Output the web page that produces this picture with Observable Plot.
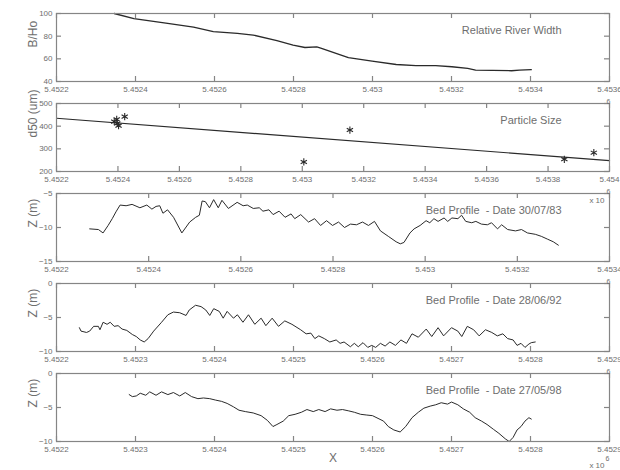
<!DOCTYPE html>
<html>
<head>
<meta charset="utf-8">
<script src="https://cdn.jsdelivr.net/npm/d3@7"></script>
<script src="https://cdn.jsdelivr.net/npm/@observablehq/plot@0.6"></script>
<style>
  body { margin: 0; background: #ffffff; }
  #chart { width: 620px; padding-top: 9px; }
  #chart svg { display: block; overflow: visible; background: transparent; }
</style>
</head>
<body>
<div id="chart"></div>
<script>
// ---------- Panel 1: Relative River Width ----------
const widthX = [5452346, 5452396, 5452477, 5452547, 5452597, 5452658, 5452698, 5452758, 5452799, 5452829, 5452859, 5452869, 5452939, 5452999, 5453060, 5453110, 5453160, 5453201, 5453241, 5453261, 5453352, 5453372, 5453402];
const widthY = [100, 95.5, 91.5, 88, 84, 82.5, 81, 76, 72, 70, 70.5, 69.5, 61, 58, 55, 54, 54, 53, 51.5, 50, 49.5, 50, 50.5];
const ticksX1 = [5452200, 5452400, 5452600, 5452800, 5453000, 5453200, 5453400, 5453600];
const ticksY1 = [40, 60, 80, 100];

// ---------- Panel 2: Particle Size ----------
const sizeX = [5452388, 5452396, 5452402, 5452398, 5452422, 5453005, 5453155, 5453853, 5453949];
const sizeY = [420, 430, 402, 412, 442, 242, 383, 254, 283];
const fitX = [5452200, 5454000];
const fitY = [435, 248];
const ticksX2 = [5452200, 5452400, 5452600, 5452800, 5453000, 5453200, 5453400, 5453600, 5453800, 5454000];
const ticksY2 = [200, 300, 400, 500];

// ---------- Panel 3: Bed Profile 30/07/83 ----------
const bed83X = [5452272, 5452291, 5452301, 5452312, 5452321, 5452329, 5452338, 5452351, 5452364, 5452381, 5452396, 5452407, 5452416, 5452424, 5452431, 5452441, 5452454, 5452472, 5452489, 5452502, 5452510, 5452516, 5452523, 5452532, 5452541, 5452551, 5452559, 5452573, 5452592, 5452605, 5452614, 5452627, 5452640, 5452648, 5452661, 5452670, 5452683, 5452696, 5452709, 5452717, 5452730, 5452747, 5452760, 5452773, 5452786, 5452799, 5452812, 5452825, 5452838, 5452851, 5452864, 5452877, 5452890, 5452903, 5452920, 5452937, 5452946, 5452954, 5452967, 5452976, 5452989, 5453002, 5453010, 5453019, 5453028, 5453041, 5453049, 5453058, 5453071, 5453079, 5453088, 5453101, 5453110, 5453122, 5453135, 5453144, 5453157, 5453166, 5453179, 5453196, 5453209, 5453222, 5453239, 5453252, 5453265, 5453278, 5453289];
const bed83Z = [-10.2, -10.3, -10.8, -9.7, -8.7, -7.7, -6.7, -6.8, -6.6, -7.1, -6.7, -7.3, -6.9, -6.8, -7.9, -7.4, -8.5, -10.8, -9.2, -8.5, -8.2, -6.1, -6.2, -7.1, -5.9, -7.1, -6.0, -7.2, -6.3, -6.8, -6.7, -7.2, -7.1, -7.6, -7.4, -8.1, -7.6, -8.5, -8.0, -8.7, -8.1, -9.2, -8.7, -9.7, -9.0, -9.7, -9.2, -10.0, -9.5, -9.6, -9.2, -9.7, -9.1, -10.5, -11.3, -12.1, -12.4, -12.2, -10.8, -10.2, -9.7, -9.0, -9.3, -8.7, -9.1, -8.6, -9.1, -8.6, -8.7, -8.2, -9.1, -9.3, -9.1, -9.5, -9.6, -9.3, -10.2, -9.6, -10.3, -10.5, -10.3, -10.8, -11.0, -11.3, -11.7, -12.1, -12.6];
const ticksX3 = [5452200, 5452400, 5452600, 5452800, 5453000, 5453200, 5453400];
const ticksY3 = [-15, -10, -5];

// ---------- Panel 4: Bed Profile 28/06/92 ----------
const bed92X = [5452229, 5452231, 5452238, 5452242, 5452247, 5452253, 5452255, 5452259, 5452264, 5452268, 5452273, 5452278, 5452283, 5452289, 5452296, 5452301, 5452306, 5452311, 5452316, 5452323, 5452333, 5452341, 5452348, 5452356, 5452364, 5452368, 5452376, 5452383, 5452389, 5452394, 5452399, 5452406, 5452411, 5452416, 5452424, 5452429, 5452436, 5452443, 5452451, 5452459, 5452465, 5452473, 5452481, 5452489, 5452498, 5452509, 5452516, 5452522, 5452527, 5452532, 5452539, 5452546, 5452554, 5452559, 5452564, 5452572, 5452577, 5452582, 5452588, 5452594, 5452599, 5452604, 5452610, 5452616, 5452622, 5452629, 5452636, 5452643, 5452650, 5452658, 5452668, 5452675, 5452683, 5452690, 5452700, 5452708, 5452713, 5452720, 5452728, 5452735, 5452743, 5452751, 5452758, 5452765, 5452771, 5452778, 5452783, 5452788, 5452793, 5452798, 5452801, 5452806];
const bed92Z = [-6.5, -7.0, -7.2, -7.0, -6.3, -6.3, -6.8, -5.7, -6.0, -5.7, -6.3, -6.2, -6.7, -6.9, -7.5, -7.8, -8.3, -8.6, -8.1, -7.0, -5.7, -4.6, -4.2, -4.3, -4.7, -3.9, -3.2, -3.4, -3.9, -4.7, -3.7, -4.1, -5.1, -4.1, -5.1, -4.6, -5.7, -4.6, -6.0, -5.1, -6.2, -5.1, -6.3, -5.5, -6.0, -6.8, -7.4, -7.3, -8.1, -7.7, -8.1, -8.6, -8.3, -8.8, -8.6, -9.3, -8.8, -9.3, -8.7, -9.4, -9.1, -9.4, -8.8, -9.2, -8.6, -9.1, -8.3, -8.8, -7.4, -7.9, -6.7, -7.8, -6.5, -7.7, -6.5, -7.0, -7.8, -6.3, -6.8, -7.7, -6.8, -7.2, -7.7, -7.4, -8.1, -8.3, -9.1, -8.8, -9.4, -8.9, -8.7, -8.6];
const ticksX45 = [5452200, 5452300, 5452400, 5452500, 5452600, 5452700, 5452800, 5452900];
const ticksY45 = [-10, -5, 0];

// ---------- Panel 5: Bed Profile 27/05/98 ----------
const bed98X = [5452292, 5452296, 5452301, 5452306, 5452313, 5452318, 5452326, 5452333, 5452341, 5452348, 5452356, 5452363, 5452371, 5452379, 5452386, 5452394, 5452401, 5452409, 5452416, 5452424, 5452431, 5452439, 5452449, 5452459, 5452467, 5452474, 5452479, 5452487, 5452494, 5452502, 5452510, 5452517, 5452525, 5452532, 5452540, 5452547, 5452555, 5452562, 5452570, 5452577, 5452585, 5452592, 5452600, 5452607, 5452614, 5452620, 5452627, 5452635, 5452642, 5452650, 5452658, 5452665, 5452673, 5452680, 5452687, 5452695, 5452700, 5452708, 5452715, 5452723, 5452730, 5452738, 5452745, 5452753, 5452760, 5452768, 5452773, 5452778, 5452783, 5452788, 5452793, 5452798, 5452801];
const bed98Z = [-3.1, -3.4, -3.3, -2.9, -3.2, -2.7, -3.2, -2.7, -3.1, -2.8, -3.3, -2.8, -3.4, -3.7, -3.6, -3.7, -3.9, -4.1, -4.4, -4.9, -5.4, -5.6, -5.8, -6.2, -6.9, -7.8, -7.5, -7.0, -6.2, -6.0, -5.7, -5.3, -5.6, -5.3, -5.6, -5.2, -5.4, -5.3, -5.5, -5.7, -6.0, -6.1, -6.2, -6.6, -7.0, -7.8, -8.3, -8.6, -7.8, -6.5, -5.7, -5.1, -4.8, -4.6, -4.3, -4.5, -4.2, -4.6, -5.2, -5.7, -6.5, -7.0, -7.5, -8.2, -8.8, -9.6, -10.0, -9.4, -8.3, -7.8, -7.0, -6.5, -6.7];

// ---------- styling ----------
const AXIS = "#858585";
const TEXT = "#6e6e6e";
const LINE = "#2a2a2a";
const FONT = "'Liberation Sans', Arial, sans-serif";
const W = 620, ML = 56, MR = 11, MT = 4;
const TICK = 5;
const fmtX = d => String(+(d / 1e6).toFixed(4));

function panel({xDomain, xTicks, yDomain, yTicks, yLabel, title, marks, height = 90, marginBottom = 18, extra = []}) {
  const frameW = W - ML - MR;
  const frameH = height - MT - marginBottom;
  return Plot.plot({
    width: W, height,
    marginLeft: ML, marginRight: MR, marginTop: MT, marginBottom,
    style: {fontFamily: FONT, fontSize: "8px", color: TEXT, background: "transparent", overflow: "visible"},
    x: {domain: xDomain},
    y: {domain: yDomain},
    marks: [
      ...marks,
      // inward tick marks on all four sides
      Plot.ruleX(xTicks, {x: d => d, insetBottom: frameH - TICK, stroke: AXIS, strokeWidth: 1.2}),
      Plot.ruleX(xTicks, {x: d => d, insetTop: frameH - TICK, stroke: AXIS, strokeWidth: 1.2}),
      Plot.ruleY(yTicks, {y: d => d, insetRight: frameW - TICK, stroke: AXIS, strokeWidth: 1.2}),
      Plot.ruleY(yTicks, {y: d => d, insetLeft: frameW - TICK, stroke: AXIS, strokeWidth: 1.2}),
      Plot.frame({stroke: AXIS, strokeWidth: 1.2}),
      // tick labels
      Plot.axisX(xTicks, {anchor: "bottom", tickSize: 0, tickPadding: 5, tickFormat: fmtX, label: null, fill: TEXT}),
      Plot.axisY(yTicks, {anchor: "left", tickSize: 0, tickPadding: 4, label: null, fill: TEXT}),
      Plot.text([yLabel], {text: d => d, frameAnchor: "left", rotate: -90, dx: -23, fontSize: 12, fill: TEXT}),
      Plot.text([title], {text: d => d, frameAnchor: "top-right", textAnchor: "end", dx: -48, dy: 13, fontSize: 11, fill: TEXT}),
      ...extra
    ]
  });
}

const six = () => Plot.text(["6"], {text: d => d, frameAnchor: "top-right", textAnchor: "start", dx: -3, dy: -4, fontSize: 7, fill: TEXT});

const chart = document.getElementById("chart");

chart.append(panel({
  xDomain: [5452200, 5453600], xTicks: ticksX1,
  yDomain: [40, 100], yTicks: ticksY1,
  yLabel: "B/Ho", title: "Relative River Width",
  marks: [Plot.line(widthY, {x: widthX, y: widthY, stroke: LINE, strokeWidth: 1.3})]
}));

chart.append(panel({
  xDomain: [5452200, 5454000], xTicks: ticksX2,
  yDomain: [200, 500], yTicks: ticksY2,
  yLabel: "d50 (um)", title: "Particle Size",
  marks: [
    Plot.line(fitY, {x: fitX, y: fitY, stroke: LINE, strokeWidth: 1.2}),
    Plot.dot(sizeY, {x: sizeX, y: sizeY, symbol: "asterisk", r: 3.4, stroke: LINE, strokeWidth: 1.1})
  ],
  extra: [six()]
}));

chart.append(panel({
  xDomain: [5452200, 5453400], xTicks: ticksX3,
  yDomain: [-15, -5], yTicks: ticksY3,
  yLabel: "Z (m)", title: "Bed Profile  - Date 30/07/83",
  marks: [Plot.line(bed83Z, {x: bed83X, y: bed83Z, stroke: LINE, strokeWidth: 1})],
  extra: [
    six(),
    Plot.text(["x 10"], {text: d => d, frameAnchor: "top-right", textAnchor: "end", dx: -5, dy: 4, fontSize: 8, fill: TEXT})
  ]
}));

chart.append(panel({
  xDomain: [5452200, 5452900], xTicks: ticksX45,
  yDomain: [-10, 0], yTicks: ticksY45,
  yLabel: "Z (m)", title: "Bed Profile  - Date 28/06/92",
  marks: [Plot.line(bed92Z, {x: bed92X, y: bed92Z, stroke: LINE, strokeWidth: 1})],
  extra: [six()]
}));

chart.append(panel({
  xDomain: [5452200, 5452900], xTicks: ticksX45,
  yDomain: [-10, 0], yTicks: ticksY45,
  yLabel: "Z (m)", title: "Bed Profile  - Date 27/05/98",
  height: 104, marginBottom: 32,
  marks: [Plot.line(bed98Z, {x: bed98X, y: bed98Z, stroke: LINE, strokeWidth: 1})],
  extra: [
    six(),
    Plot.text(["X"], {text: d => d, frameAnchor: "bottom", dy: 20, fontSize: 12, fill: TEXT}),
    Plot.text(["x 10"], {text: d => d, frameAnchor: "bottom-right", textAnchor: "end", dx: -5, dy: 26, fontSize: 8, fill: TEXT}),
    Plot.text(["6"], {text: d => d, frameAnchor: "bottom-right", textAnchor: "start", dx: -4, dy: 19, fontSize: 7, fill: TEXT})
  ]
}));
</script>
</body>
</html>
